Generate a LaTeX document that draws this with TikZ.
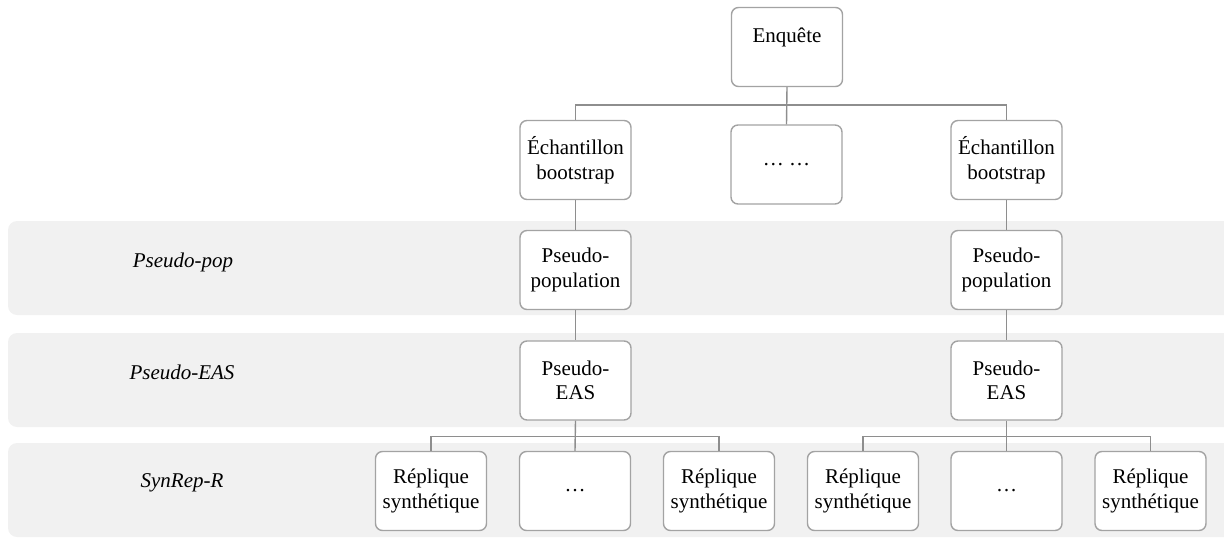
\documentclass[tikz,border=0pt]{standalone}
\usepackage{fontspec}
\setmainfont{Liberation Serif}
\begin{document}
\begin{tikzpicture}[x=1pt,y=-1pt,
  box/.style={draw=boxgray, line width=1.4pt, fill=white, rounded corners=7pt,
    minimum width=111pt, minimum height=79pt, align=center, inner sep=2pt,
    font=\fontsize{21}{24.5}\selectfont},
  band/.style={fill=bandgray, rounded corners=9pt},
  bandlabel/.style={font=\fontsize{21}{24}\selectfont\itshape},
  link/.style={draw=linegray, line width=1.4pt}]
\definecolor{boxgray}{HTML}{A3A3A3}
\definecolor{linegray}{HTML}{8E8E8E}
\definecolor{bandgray}{HTML}{F1F1F1}
\useasboundingbox (0,0) rectangle (1224,538);
\clip (0,0) rectangle (1224,538);

% horizontal bands
\fill[band] (8,221) rectangle (1240,315);
\fill[band] (8,333) rectangle (1240,427);
\fill[band] (8,443) rectangle (1240,537);
\node[bandlabel] (lpop) at (183,262) {Pseudo-pop};
\node[bandlabel] (leas) at (182,372) {Pseudo-EAS};
\node[bandlabel] (lsyn) at (182,483) {SynRep-R};

% tree nodes
\node[box] (enq) at (787,47) {Enquête\\\mbox{}};
\node[box] (e1) at (575.5,160) {Échantillon\\bootstrap};
\node[box] (dots) at (786.5,164.5) {… …};
\node[box] (e2) at (1006.5,160) {Échantillon\\bootstrap};
\node[box] (p1) at (575.5,270) {Pseudo-\\population};
\node[box] (p2) at (1006.5,270) {Pseudo-\\population};
\node[box] (s1) at (575.5,380.5) {Pseudo-\\EAS};
\node[box] (s2) at (1006.5,380.5) {Pseudo-\\EAS};
\node[box] (r1) at (431,491) {Réplique\\synthétique};
\node[box] (r2) at (575,491) {…};
\node[box] (r3) at (719,491) {Réplique\\synthétique};
\node[box] (r4) at (863,491) {Réplique\\synthétique};
\node[box] (r5) at (1006.5,491) {…};
\node[box] (r6) at (1150.5,491) {Réplique\\synthétique};

% connectors
\coordinate (bus0) at (787,105);
\coordinate (bus1) at (575,436.5);
\coordinate (bus2) at (1006.5,436.5);
\draw[link] (enq.south) -- (dots.north);
\draw[link] (e1.north) |- (bus0) -| (e2.north);
\draw[link] (e1) -- (p1) -- (s1);
\draw[link] (e2) -- (p2) -- (s2);
\draw[link] (s1.south) -- (r2.north);
\draw[link] (r1.north) |- (bus1) -| (r3.north);
\draw[link] (s2.south) -- (r5.north);
\draw[link] (r4.north) |- (bus2) -| (r6.north);
\end{tikzpicture}
\end{document}
